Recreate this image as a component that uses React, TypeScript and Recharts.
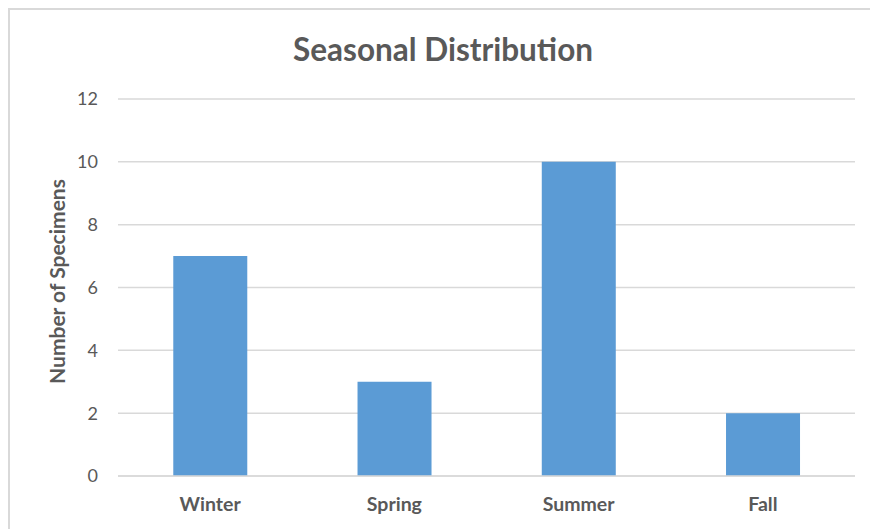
import { BarChart, Bar, XAxis, YAxis, CartesianGrid } from 'recharts';

// 每个季节的标本数量
const seasons = ['Winter', 'Spring', 'Summer', 'Fall'];
const specimenCounts = [7, 3, 10, 2];
const yTicks = [0, 2, 4, 6, 8, 10, 12];

const data = seasons.map((season, i) => ({ season, count: specimenCounts[i] }));

const FONT = 'Lato, "Open Sans", sans-serif';
const TEXT = '#595959';

function YTitle(props: any) {
  const { viewBox } = props;
  const x = viewBox.x - 2;
  const y = viewBox.y + viewBox.height / 2 - 6;
  return (
    <text
      x={x}
      y={y}
      transform={`rotate(-90, ${x}, ${y})`}
      textAnchor="middle"
      dominantBaseline="central"
      fontFamily={FONT}
      fontWeight="bold"
      fontSize={21}
      fill={TEXT}
    >
      Number of Specimens
    </text>
  );
}

export default function App() {
  return (
    <div
      style={{
        position: 'absolute',
        left: 0,
        top: 0,
        width: 870,
        height: 529,
        overflow: 'hidden',
        background: '#fff',
        fontFamily: FONT,
      }}
    >
      <div
        style={{
          position: 'absolute',
          left: 8,
          top: 8,
          width: 880,
          height: 540,
          border: '2px solid #d9d9d9',
          boxSizing: 'border-box',
        }}
      />
      <div
        style={{
          position: 'absolute',
          left: 0,
          top: 29,
          width: 886,
          textAlign: 'center',
          fontSize: 31.5,
          fontWeight: 'bold',
          color: TEXT,
          lineHeight: '40px',
        }}
      >
        Seasonal Distribution
      </div>
      <div style={{ position: 'absolute', left: 0, top: 0 }}>
        <BarChart
          width={870}
          height={529}
          data={data}
          margin={{ top: 99, right: 15, left: 58, bottom: 13 }}
          barCategoryGap="30%"
        >
          <CartesianGrid vertical={false} stroke="#d9d9d9" strokeWidth={1.5} />
          <XAxis
            dataKey="season"
            height={40}
            axisLine={{ stroke: '#d9d9d9', strokeWidth: 1.5 }}
            tickLine={false}
            tickSize={0}
            tickMargin={21}
            tick={{ fill: TEXT, fontSize: 19.5, fontWeight: 'bold', fontFamily: FONT }}
          />
          <YAxis
            width={60}
            domain={[0, 12]}
            ticks={yTicks}
            axisLine={false}
            tickLine={false}
            tickSize={0}
            tickMargin={20}
            tick={{ fill: TEXT, fontSize: 18, fontFamily: FONT }}
            label={{ content: YTitle }}
          />
          <Bar dataKey="count" fill="#5b9bd5" isAnimationActive={false} />
        </BarChart>
      </div>
    </div>
  );
}
